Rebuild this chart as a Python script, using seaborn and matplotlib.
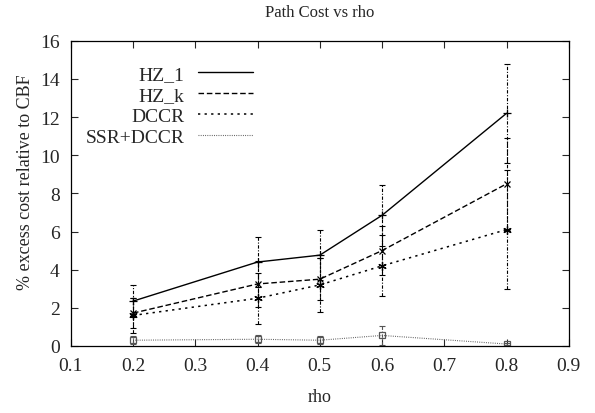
import matplotlib
matplotlib.use("Agg")
import matplotlib.pyplot as plt
import seaborn as sns
import pandas as pd

rho = [0.2, 0.4, 0.5, 0.6, 0.8]

hz_1 = [2.35, 4.4, 4.76, 6.85, 12.2]
hz_1_err = [0.85, 1.3, 1.3, 1.6, 2.6]

hz_k = [1.72, 3.25, 3.5, 5.0, 8.5]
hz_k_err = [0.8, 1.2, 1.1, 1.3, 2.4]

dccr = [1.6, 2.5, 3.2, 4.2, 6.1]
dccr_err = [0.9, 1.35, 1.4, 1.6, 3.1]

ssr_dccr = [0.3, 0.35, 0.3, 0.55, 0.1]
ssr_dccr_err = [0.2, 0.2, 0.2, 0.5, 0.05]

series_names = ["HZ_1", "HZ_k", "DCCR", "SSR+DCCR"]

sns.set_style("ticks")
plt.rcParams["font.family"] = ["Liberation Serif", "DejaVu Serif"]
plt.rcParams["font.size"] = 14

# one row per point, long format for seaborn
df = pd.concat([
    pd.DataFrame({"rho": rho, "cost": hz_1, "err": hz_1_err, "series": "HZ_1"}),
    pd.DataFrame({"rho": rho, "cost": hz_k, "err": hz_k_err, "series": "HZ_k"}),
    pd.DataFrame({"rho": rho, "cost": dccr, "err": dccr_err, "series": "DCCR"}),
    pd.DataFrame({"rho": rho, "cost": ssr_dccr, "err": ssr_dccr_err, "series": "SSR+DCCR"}),
])

styles = {
    "HZ_1": dict(ls="-", marker="+", color="black", lw=1.0, ms=6),
    "HZ_k": dict(ls=(0, (4, 2)), marker="x", color="black", lw=1.0, ms=5),
    "DCCR": dict(ls=(0, (1.5, 2.8)), marker=(6, 2, 0), color="black", lw=1.1, ms=6),
    "SSR+DCCR": dict(ls=(0, (0.8, 1.2)), marker="s", color="#555555", lw=0.8, ms=4),
}

fig = plt.figure(figsize=(5.95, 4.14), dpi=100)
ax = fig.add_axes([0.119, 0.162, 0.837, 0.737])

for name in series_names:
    st = styles[name]
    sub = df[df["series"] == name]
    sns.lineplot(data=sub, x="rho", y="cost", ax=ax, color=st["color"],
                 linestyle=st["ls"], linewidth=st["lw"], label=name)
    eb = ax.errorbar(sub["rho"], sub["cost"], yerr=sub["err"], fmt="none",
                     ecolor=st["color"], elinewidth=0.8, capsize=2, capthick=0.8)
    eb[2][0].set_linestyle((0, (3, 1.5, 1, 1.5)))
    ax.plot(sub["rho"], sub["cost"], linestyle="none", marker=st["marker"],
            markersize=st["ms"], markeredgecolor=st["color"],
            markerfacecolor="none", markeredgewidth=0.9)

ax.set_xlim(0.1, 0.9)
ax.set_ylim(0, 16)
ax.set_xticks([0.1, 0.2, 0.3, 0.4, 0.5, 0.6, 0.7, 0.8, 0.9])
ax.set_yticks(range(0, 17, 2))
ax.tick_params(direction="in", top=True, right=True, length=5, width=0.8,
               labelsize=14, pad=8)
for sp in ax.spines.values():
    sp.set_linewidth(0.9)
    sp.set_color("black")

ax.set_title("Path Cost vs rho", fontsize=12, pad=18)
ax.set_xlabel("rho", fontsize=13, labelpad=10)
ax.set_ylabel("% excess cost relative to CBF", fontsize=13)
ax.yaxis.set_label_coords(-0.074, 0.54)

leg = ax.legend(loc="upper right", bbox_to_anchor=(0.365, 0.92), frameon=False,
                markerfirst=False, handlelength=2.8, fontsize=14,
                labelspacing=0.17, handletextpad=0.7, borderpad=0,
                borderaxespad=0)
for t in leg.get_texts():
    t.set_ha("right")
leg._legend_box.align = "right"

fig.savefig("out.png", dpi=100)
